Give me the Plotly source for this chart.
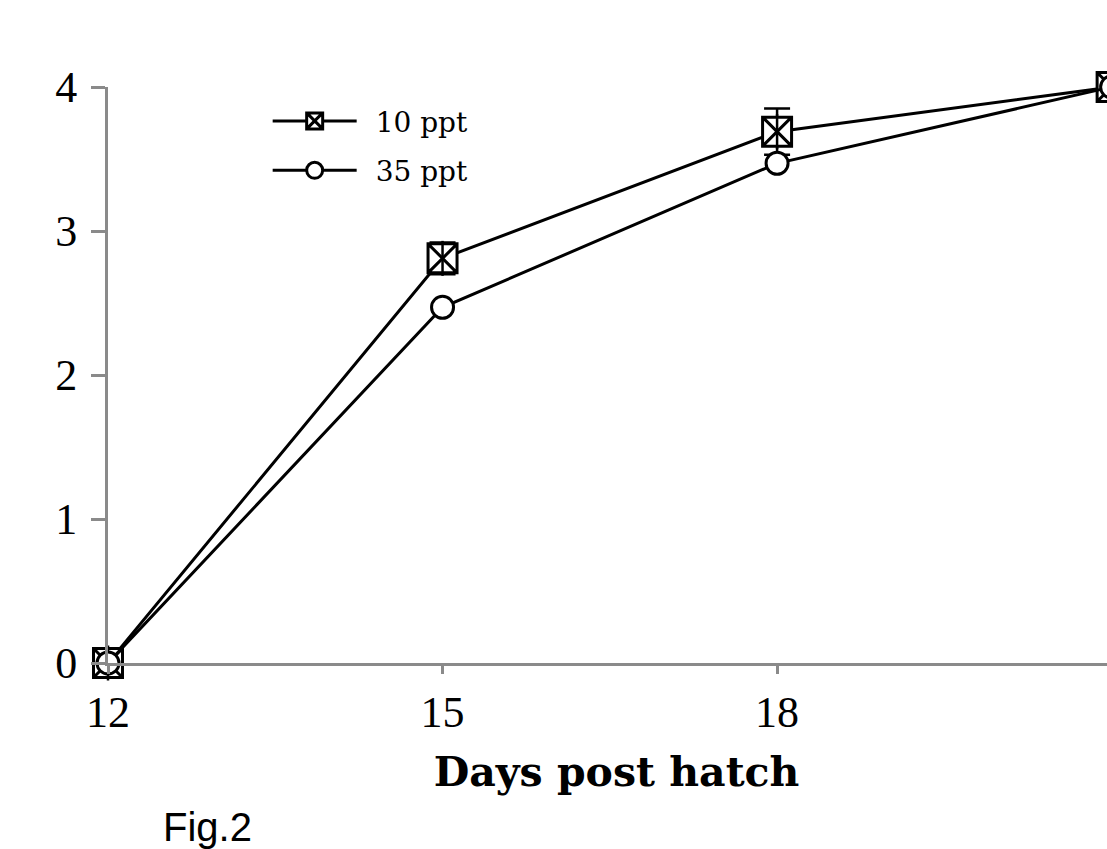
import plotly.graph_objects as go

days = [12, 15, 18, 21]
ppt10 = [0.0, 2.81, 3.69, 4.0]
ppt10_err = [0.0, 0.11, 0.16, 0.0]
ppt35 = [0.0, 2.47, 3.47, 4.0]
ppt35_err = [0.0, 0.03, 0.0, 0.0]
x_ticks = [12, 15, 18]
y_ticks = [0, 1, 2, 3, 4]
series_names = ["10 ppt", "35 ppt"]

fig = go.Figure()

fig.add_trace(go.Scatter(
    x=days, y=ppt10, name="\u2002" + series_names[0], mode="lines+markers",
    legendgroup="a",
    line=dict(color="black", width=3),
    marker=dict(symbol="square-x", size=29, color="white",
                line=dict(color="black", width=3)),
    error_y=dict(type="data", array=ppt10_err, visible=True,
                 color="black", thickness=2.5, width=13),
    cliponaxis=False,
))
fig.add_trace(go.Scatter(
    x=days, y=ppt10, mode="markers", showlegend=False, hoverinfo="skip",
    legendgroup="a",
    marker=dict(symbol="line-ns", size=25, color="black",
                line=dict(color="black", width=2.5)),
    cliponaxis=False,
))
fig.add_trace(go.Scatter(
    x=days, y=ppt35, name="\u2002" + series_names[1], mode="lines+markers",
    legendgroup="b",
    line=dict(color="black", width=3),
    marker=dict(symbol="circle", size=22, color="white",
                line=dict(color="black", width=3)),
    error_y=dict(type="data", array=ppt35_err, visible=True,
                 color="black", thickness=2.5, width=11),
    cliponaxis=False,
))

serif = "Liberation Serif, serif"
wide_serif = "DejaVu Serif, serif"
axis_color = "#8a8a8a"

fig.update_layout(
    width=1125, height=849,
    margin=dict(l=108, r=0, t=87, b=186),
    paper_bgcolor="white", plot_bgcolor="white",
    font=dict(family=serif, color="black"),
    showlegend=True,
    legend=dict(x=0.157, y=0.984, xanchor="left", yanchor="top",
                bgcolor="rgba(0,0,0,0)", itemwidth=84,
                traceorder="grouped", tracegroupgap=10,
                font=dict(family=wide_serif, size=28, color="black")),
    xaxis=dict(range=[12, 21.12], tickvals=x_ticks, ticktext=[str(v) for v in x_ticks],
               showline=True, linecolor=axis_color, linewidth=3,
               ticks="outside", tickcolor=axis_color, tickwidth=3, ticklen=8,
               showgrid=False, zeroline=False,
               tickfont=dict(family=serif, size=44, color="black"),
               title=dict(text="<b>Days post hatch</b>", standoff=22,
                          font=dict(family=wide_serif, size=41, color="black"))),
    yaxis=dict(range=[0, 4], tickvals=y_ticks,
               showline=True, linecolor=axis_color, linewidth=3,
               ticks="outside", tickcolor=axis_color, tickwidth=3, ticklen=14,
               ticklabelstandoff=5,
               showgrid=False, zeroline=False,
               tickfont=dict(family=serif, size=44, color="black")),
    annotations=[dict(text="Fig.2", xref="paper", yref="paper",
                      x=0.052, y=-0.243, xanchor="left", yanchor="top",
                      showarrow=False,
                      font=dict(family="Liberation Sans, Arial, sans-serif", size=40, color="black"))],
)

fig.write_html("out.html", config={"displayModeBar": False},
               post_script="document.body.style.margin='0';document.body.style.overflow='hidden';document.documentElement.style.overflow='hidden';")
